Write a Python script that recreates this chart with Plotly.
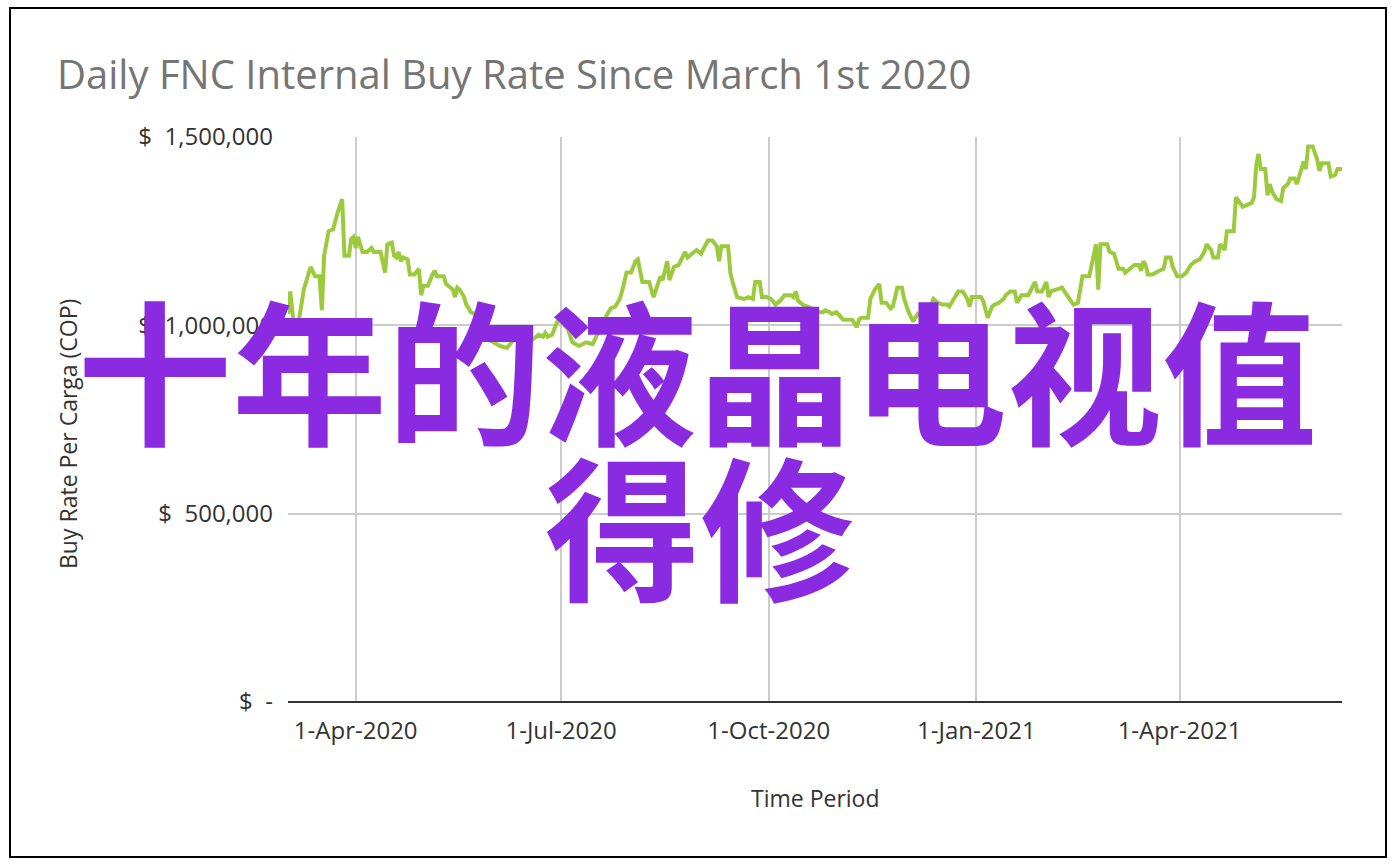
import plotly.graph_objects as go

# ---- data ----
dates = [
    "2020-03-02", "2020-03-03", "2020-03-05", "2020-03-07", "2020-03-09", "2020-03-12", "2020-03-14", "2020-03-16",
    "2020-03-17", "2020-03-18", "2020-03-20", "2020-03-22", "2020-03-24", "2020-03-26", "2020-03-27", "2020-03-29",
    "2020-03-30", "2020-03-31", "2020-04-01", "2020-04-02", "2020-04-04", "2020-04-06", "2020-04-08", "2020-04-09",
    "2020-04-12", "2020-04-14", "2020-04-15", "2020-04-17", "2020-04-18", "2020-04-19", "2020-04-20", "2020-04-21",
    "2020-04-22", "2020-04-24", "2020-04-25", "2020-04-27", "2020-04-29", "2020-04-30", "2020-05-01", "2020-05-03",
    "2020-05-05", "2020-05-06", "2020-05-07", "2020-05-10", "2020-05-11", "2020-05-14", "2020-05-15", "2020-05-16",
    "2020-05-17", "2020-05-19", "2020-05-20", "2020-05-22", "2020-05-24", "2020-05-26", "2020-05-29", "2020-06-01",
    "2020-06-04", "2020-06-07", "2020-06-09", "2020-06-11", "2020-06-15", "2020-06-19", "2020-06-21", "2020-06-23",
    "2020-06-24", "2020-06-25", "2020-06-27", "2020-06-29", "2020-06-30", "2020-07-04", "2020-07-06", "2020-07-09",
    "2020-07-12", "2020-07-15", "2020-07-17", "2020-07-20", "2020-07-21", "2020-07-23", "2020-07-25", "2020-07-27",
    "2020-07-28", "2020-07-30", "2020-08-01", "2020-08-03", "2020-08-04", "2020-08-06", "2020-08-09", "2020-08-11",
    "2020-08-13", "2020-08-14", "2020-08-15", "2020-08-17", "2020-08-18", "2020-08-20", "2020-08-22", "2020-08-25",
    "2020-08-26", "2020-08-27", "2020-08-30", "2020-09-01", "2020-09-02", "2020-09-04", "2020-09-06", "2020-09-08",
    "2020-09-09", "2020-09-10", "2020-09-13", "2020-09-14", "2020-09-15", "2020-09-17", "2020-09-20", "2020-09-22",
    "2020-09-24", "2020-09-25", "2020-09-27", "2020-09-28", "2020-09-30", "2020-10-02", "2020-10-04", "2020-10-06",
    "2020-10-08", "2020-10-11", "2020-10-12", "2020-10-13", "2020-10-14", "2020-10-16", "2020-10-20", "2020-10-23",
    "2020-10-25", "2020-10-26", "2020-10-28", "2020-10-29", "2020-10-31", "2020-11-03", "2020-11-07", "2020-11-09",
    "2020-11-10", "2020-11-11", "2020-11-14", "2020-11-15", "2020-11-17", "2020-11-19", "2020-11-20", "2020-11-22",
    "2020-11-24", "2020-11-25", "2020-11-27", "2020-11-29", "2020-11-30", "2020-12-02", "2020-12-04", "2020-12-06",
    "2020-12-09", "2020-12-13", "2020-12-15", "2020-12-17", "2020-12-19", "2020-12-20", "2020-12-22", "2020-12-24",
    "2020-12-26", "2020-12-28", "2020-12-29", "2020-12-30", "2021-01-03", "2021-01-04", "2021-01-06", "2021-01-07",
    "2021-01-08", "2021-01-09", "2021-01-11", "2021-01-13", "2021-01-14", "2021-01-16", "2021-01-18", "2021-01-19",
    "2021-01-21", "2021-01-24", "2021-01-26", "2021-01-27", "2021-01-28", "2021-01-30", "2021-02-01", "2021-02-02",
    "2021-02-03", "2021-02-06", "2021-02-08", "2021-02-09", "2021-02-11", "2021-02-13", "2021-02-15", "2021-02-16",
    "2021-02-17", "2021-02-20", "2021-02-23", "2021-02-24", "2021-02-25", "2021-02-28", "2021-03-01", "2021-03-03",
    "2021-03-05", "2021-03-07", "2021-03-08", "2021-03-09", "2021-03-12", "2021-03-14", "2021-03-15", "2021-03-16",
    "2021-03-17", "2021-03-18", "2021-03-20", "2021-03-23", "2021-03-25", "2021-03-26", "2021-03-28", "2021-03-29",
    "2021-03-31", "2021-04-02", "2021-04-04", "2021-04-06", "2021-04-08", "2021-04-10", "2021-04-12", "2021-04-13",
    "2021-04-15", "2021-04-16", "2021-04-18", "2021-04-19", "2021-04-21", "2021-04-22", "2021-04-25", "2021-04-26",
    "2021-04-27", "2021-04-29", "2021-05-01", "2021-05-03", "2021-05-04", "2021-05-05", "2021-05-06", "2021-05-07",
    "2021-05-09", "2021-05-10", "2021-05-11", "2021-05-12", "2021-05-14", "2021-05-16", "2021-05-17", "2021-05-19",
    "2021-05-20", "2021-05-22", "2021-05-23", "2021-05-26", "2021-05-27", "2021-05-28", "2021-05-30", "2021-06-01",
    "2021-06-02", "2021-06-03", "2021-06-06", "2021-06-07", "2021-06-09", "2021-06-10", "2021-06-12",
]

buy_rate = [
    1030000, 1090000, 975000, 1020000, 1095000, 1155000, 1130000, 1130000,
    1040000, 1185000, 1250000, 1255000, 1300000, 1335000, 1185000, 1185000,
    1230000, 1235000, 1205000, 1235000, 1195000, 1195000, 1205000, 1195000,
    1195000, 1140000, 1215000, 1220000, 1185000, 1180000, 1195000, 1170000,
    1180000, 1175000, 1135000, 1135000, 1150000, 1080000, 1105000, 1105000,
    1135000, 1145000, 1130000, 1130000, 1110000, 1095000, 1075000, 1100000,
    1095000, 1075000, 1055000, 1035000, 1030000, 990000, 965000, 955000,
    945000, 940000, 955000, 965000, 950000, 965000, 975000, 970000,
    980000, 970000, 975000, 1005000, 1015000, 990000, 955000, 945000,
    955000, 950000, 975000, 1000000, 1025000, 1045000, 1050000, 1070000,
    1090000, 1140000, 1140000, 1170000, 1175000, 1115000, 1115000, 1075000,
    1115000, 1130000, 1120000, 1170000, 1120000, 1155000, 1160000, 1195000,
    1180000, 1185000, 1200000, 1190000, 1200000, 1225000, 1225000, 1210000,
    1170000, 1210000, 1210000, 1140000, 1115000, 1075000, 1070000, 1075000,
    1070000, 1115000, 1115000, 1075000, 1075000, 1070000, 1055000, 1065000,
    1080000, 1080000, 1075000, 1090000, 1065000, 1055000, 1045000, 1035000,
    1035000, 1040000, 1035000, 1030000, 1035000, 1015000, 1015000, 995000,
    1015000, 1020000, 1020000, 1070000, 1095000, 1110000, 1060000, 1060000,
    1045000, 1050000, 1100000, 1100000, 1070000, 1035000, 1010000, 1030000,
    1015000, 1070000, 1060000, 1055000, 1055000, 1050000, 1070000, 1090000,
    1090000, 1070000, 1050000, 1075000, 1075000, 1065000, 1020000, 1035000,
    1050000, 1055000, 1060000, 1070000, 1080000, 1090000, 1090000, 1060000,
    1080000, 1080000, 1105000, 1115000, 1090000, 1090000, 1115000, 1075000,
    1090000, 1095000, 1100000, 1090000, 1070000, 1055000, 1060000, 1095000,
    1130000, 1130000, 1215000, 1095000, 1215000, 1215000, 1195000, 1190000,
    1150000, 1150000, 1140000, 1145000, 1160000, 1160000, 1145000, 1170000,
    1160000, 1135000, 1135000, 1145000, 1150000, 1180000, 1180000, 1155000,
    1130000, 1130000, 1140000, 1160000, 1170000, 1175000, 1195000, 1215000,
    1200000, 1180000, 1180000, 1215000, 1200000, 1250000, 1250000, 1340000,
    1330000, 1315000, 1320000, 1325000, 1340000, 1425000, 1455000, 1415000,
    1415000, 1345000, 1375000, 1355000, 1335000, 1330000, 1365000, 1375000,
    1390000, 1390000, 1375000, 1435000, 1415000, 1475000, 1475000, 1440000,
    1410000, 1430000, 1430000, 1395000, 1400000, 1415000, 1415000,
]

x_tick_dates = ["2020-04-01", "2020-07-01", "2020-10-01", "2021-01-01", "2021-04-01"]
x_tick_labels = ["1-Apr-2020", "1-Jul-2020", "1-Oct-2020", "1-Jan-2021", "1-Apr-2021"]
y_tick_values = [0, 500000, 1000000, 1500000]
y_tick_labels = ["$\u00a0\u00a0-", "$\u00a0\u00a0500,000", "$\u00a0\u00a01,000,000", "$\u00a0\u00a01,500,000"]

title_text = "Daily FNC Internal Buy Rate Since March 1st 2020"
x_title = "Time Period"
y_title = "Buy Rate Per Carga (COP)"
overlay_line1 = "十年的液晶电视值"
overlay_line2 = "得修"

W, H = 1394, 866
L, R, T, B = 288, 52, 137, 164
pw, ph = W - L - R, H - T - B

def px_x(p):
    return (p - L) / pw

def px_y(p):
    return (H - B - p) / ph

FONT = "Open Sans, Roboto, sans-serif"

fig = go.Figure()
fig.add_trace(go.Scatter(
    x=dates, y=buy_rate, mode="lines",
    line=dict(color="#9BCB3C", width=4),
    hoverinfo="x+y", showlegend=False,
))

fig.update_layout(
    width=W, height=H,
    margin=dict(l=L, r=R, t=T, b=B, autoexpand=False),
    paper_bgcolor="white", plot_bgcolor="white",
    showlegend=False,
    title=dict(
        text=title_text, x=57 / W, xanchor="left", xref="container",
        y=1 - 75 / H, yanchor="middle", yref="container",
        font=dict(family=FONT, size=40, color="#757575"),
    ),
    xaxis=dict(
        type="date", range=[dates[0], dates[-1]],
        tickvals=x_tick_dates, ticktext=x_tick_labels,
        showgrid=True, gridcolor="#cccccc", gridwidth=1.5,
        showline=False, zeroline=False, ticks="",
        ticklabelstandoff=12,
        tickfont=dict(family=FONT, size=24, color="#333333"),
        fixedrange=True,
    ),
    yaxis=dict(
        range=[0, 1500000],
        tickvals=y_tick_values, ticktext=y_tick_labels,
        showgrid=True, gridcolor="#cccccc", gridwidth=1.5,
        zeroline=True, zerolinecolor="#333333", zerolinewidth=2,
        showline=False, ticks="",
        ticklabelstandoff=14,
        tickfont=dict(family=FONT, size=24, color="#333333"),
        fixedrange=True,
    ),
    annotations=[
        dict(text=x_title, xref="paper", yref="paper", x=px_x(815), y=px_y(798),
             showarrow=False, xanchor="center", yanchor="middle",
             font=dict(family=FONT, size=23, color="#333333")),
        dict(text=y_title, xref="paper", yref="paper", x=px_x(68), y=px_y(434),
             showarrow=False, textangle=-90, xanchor="center", yanchor="middle",
             font=dict(family=FONT, size=23, color="#333333")),
        dict(text=overlay_line1, xref="paper", yref="paper", x=px_x(697), y=px_y(365),
             showarrow=False, xanchor="center", yanchor="middle",
             font=dict(family="Noto Sans CJK SC", size=155, color="#8A2BE2", weight="bold")),
        dict(text=overlay_line2, xref="paper", yref="paper", x=px_x(700), y=px_y(521),
             showarrow=False, xanchor="center", yanchor="middle",
             font=dict(family="Noto Sans CJK SC", size=155, color="#8A2BE2", weight="bold")),
    ],
    shapes=[
        dict(type="rect", xref="paper", yref="paper", layer="above",
             x0=px_x(10), x1=px_x(1386), y0=px_y(857), y1=px_y(8),
             line=dict(color="#000000", width=2), fillcolor="rgba(0,0,0,0)"),
    ],
)

fig.write_html("out.html", include_plotlyjs=True, config={"displayModeBar": False},
               post_script="document.body.style.margin='0';document.body.style.overflow='hidden';")
